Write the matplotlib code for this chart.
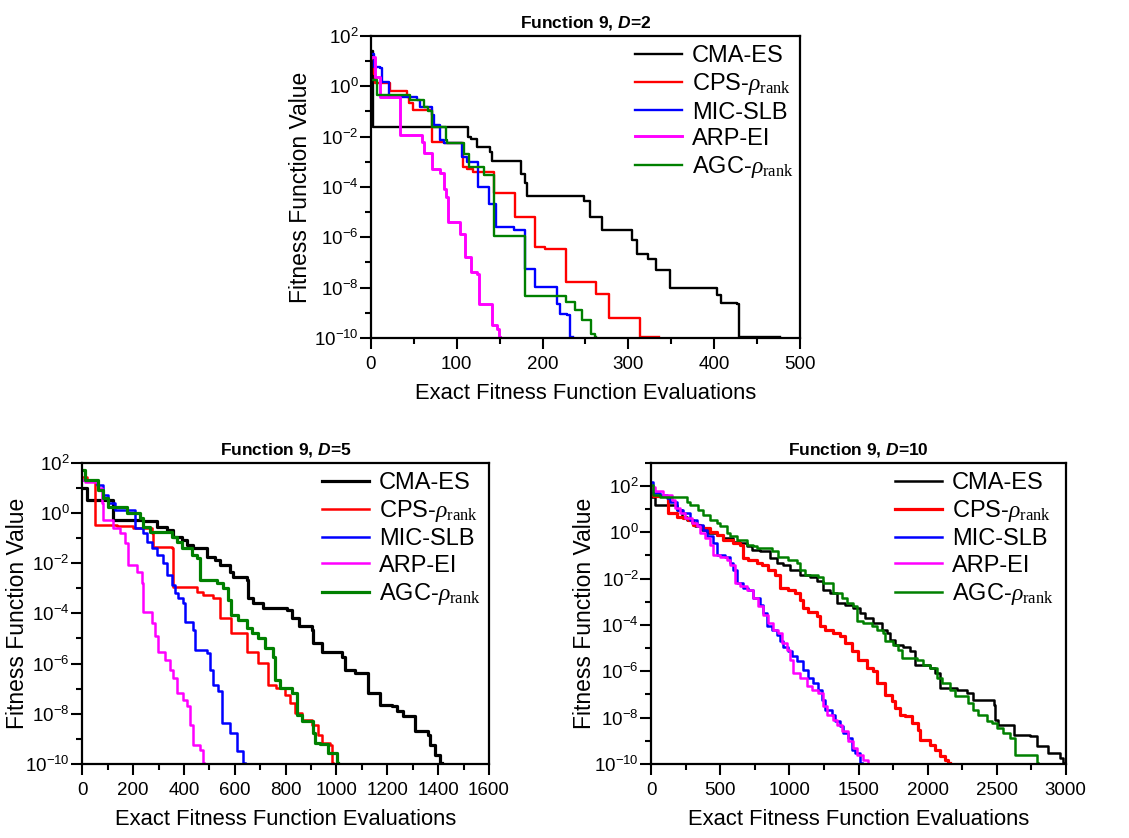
import numpy as np
import matplotlib.pyplot as plt
from matplotlib.ticker import FixedLocator, NullFormatter

plt.rcParams['font.family'] = ['Liberation Sans', 'DejaVu Sans']
plt.rcParams['mathtext.fontset'] = 'custom'
plt.rcParams['mathtext.rm'] = 'Liberation Serif'
plt.rcParams['mathtext.it'] = 'Liberation Serif:italic'
plt.rcParams['mathtext.bf'] = 'Liberation Sans:bold'
plt.rcParams['mathtext.bfit'] = 'Liberation Sans:italic:bold'

names = ['CMA-ES', r'CPS-$\rho_{\mathrm{rank}}$', 'MIC-SLB', 'ARP-EI', r'AGC-$\rho_{\mathrm{rank}}$']
colors = ['black', '#ff0000', '#0000ff', '#ff00ff', '#008000']

# ---- Function 9, D=2  (x = evaluations, e = log10 of fitness value)
d2_cma_x = [0, 2, 113, 117, 123, 139, 141, 175, 180, 182, 248, 255, 269, 304, 310, 323, 332, 349, 403, 408, 426, 429, 477]
d2_cma_e = [1.4, -1.6, -2.0, -2.1, -2.4, -2.6, -2.95, -3.5, -3.85, -4.35, -4.55, -5.2, -5.7, -6.1, -6.65, -6.85, -7.3, -8.0, -8.3, -8.6, -8.65, -9.97, -9.97]
d2_cps_x = [0, 3, 5, 22, 42, 44, 49, 71, 85, 107, 112, 119, 143, 168, 191, 203, 227, 262, 277, 313, 336]
d2_cps_e = [1.1, 0.5, 0.12, -0.2, -0.41, -0.68, -0.95, -2.2, -2.27, -3.2, -3.27, -3.4, -4.23, -5.2, -6.4, -6.45, -7.77, -8.27, -9.19, -9.95, -9.95]
d2_mic_x = [0, 3, 11, 13, 21, 54, 57, 71, 74, 81, 85, 106, 112, 125, 137, 146, 167, 180, 191, 217, 220, 228, 232, 235]
d2_mic_e = [1.3, 0.78, 0.72, 0.18, -0.41, -0.55, -0.81, -1.14, -1.54, -2.14, -2.27, -2.8, -3.0, -4.0, -4.68, -5.59, -5.72, -7.25, -7.97, -8.64, -9.03, -9.1, -9.97, -9.97]
d2_arp_x = [0, 5, 11, 34, 59, 62, 71, 81, 85, 88, 90, 104, 110, 117, 123, 126, 141, 147, 149, 150]
d2_arp_e = [1.18, 0.38, -0.41, -1.94, -2.2, -2.67, -3.27, -3.46, -4.1, -4.39, -5.39, -5.85, -6.78, -7.38, -7.45, -8.64, -9.5, -9.65, -9.97, -9.97]
d2_agc_x = [0, 7, 46, 62, 67, 71, 87, 89, 108, 114, 132, 143, 180, 227, 238, 246, 256, 261, 262]
d2_agc_e = [0.24, -0.35, -0.55, -0.81, -1.0, -1.6, -2.14, -2.27, -2.7, -3.2, -3.53, -5.96, -8.33, -8.57, -8.9, -9.3, -9.83, -9.97, -9.97]

# ---- Function 9, D=5
d5_cma_x = [0, 17, 122, 240, 292, 332, 358, 391, 410, 437, 489, 522, 542, 581, 594, 647, 653, 673, 712, 804, 824, 851, 903, 909, 942,
            1020, 1033, 1073, 1125, 1171, 1217, 1237, 1262, 1308, 1361, 1368, 1388, 1407, 1414]
d5_cma_e = [1.0, 0.51, -0.28, -0.34, -0.55, -0.68, -0.94, -1.07, -1.28, -1.41, -1.74, -1.87, -2.07, -2.34, -2.54, -2.67, -3.4, -3.6, -3.8,
            -3.86, -4.19, -4.52, -4.66, -5.19, -5.52, -5.72, -6.25, -6.38, -7.18, -7.64, -7.7, -7.9, -8.1, -8.7, -8.84, -9.23, -9.63, -9.97, -9.97]
d5_cps_x = [0, 17, 50, 135, 200, 273, 279, 351, 358, 450, 476, 515, 542, 587, 647, 692, 732, 764, 797, 817, 837, 863, 902, 928, 942,
            974, 981, 985]
d5_cps_e = [1.44, 1.31, -0.48, -0.52, -0.61, -0.81, -1.34, -1.4, -2.93, -3.13, -3.27, -3.4, -4.19, -4.79, -5.52, -5.98, -6.85, -6.98, -7.24,
            -7.58, -7.97, -8.24, -8.44, -8.84, -9.17, -9.25, -9.97, -9.97]
d5_mic_x = [0, 56, 83, 102, 128, 207, 240, 253, 273, 292, 319, 332, 351, 365, 378, 397, 404, 437, 443, 489, 502, 515, 535, 548, 581,
            607, 633, 640]
d5_mic_e = [1.31, 1.11, 0.71, 0.38, 0.12, -0.61, -0.81, -1.14, -1.41, -1.67, -2.0, -2.47, -2.87, -3.2, -3.4, -3.6, -4.33, -4.66, -5.45,
            -5.59, -6.25, -6.85, -7.11, -8.37, -8.77, -9.5, -9.97, -9.97]
d5_arp_x = [0, 10, 63, 76, 83, 122, 148, 168, 181, 214, 233, 240, 273, 286, 299, 325, 345, 358, 371, 397, 410, 424, 437, 463, 476, 479]
d5_arp_e = [1.31, 1.24, 0.98, 0.38, -0.28, -0.61, -0.81, -1.21, -2.07, -2.34, -2.8, -3.93, -4.39, -4.92, -5.52, -5.85, -6.25, -6.58,
            -7.18, -7.44, -7.7, -8.44, -9.23, -9.43, -9.97, -9.97]
d5_agc_x = [0, 10, 63, 83, 102, 174, 227, 240, 266, 351, 371, 391, 430, 450, 463, 529, 555, 575, 587, 614, 647, 666, 692, 719, 751,
            758, 778, 824, 843, 863, 909, 916, 935, 968, 1001, 1007]
d5_agc_e = [1.7, 1.31, 0.91, 0.58, 0.25, -0.02, -0.21, -0.55, -0.75, -0.94, -1.14, -1.41, -1.67, -1.8, -2.67, -2.8, -3.0, -3.46, -4.06,
            -4.26, -4.59, -4.79, -4.99, -5.39, -5.72, -6.65, -6.98, -7.18, -8.04, -8.3, -8.77, -9.17, -9.22, -9.56, -9.97, -9.97]

# ---- Function 9, D=10
d10_cma_x = [0, 27, 183, 220, 256, 292, 316, 364, 401, 473, 521, 594, 642, 690, 727, 787, 859, 908, 956, 1004, 1077, 1149, 1197, 1246,
             1294, 1342, 1402, 1463, 1511, 1547, 1607, 1668, 1704, 1728, 1764, 1825, 1873, 1909, 2018, 2054, 2090, 2211, 2283, 2332,
             2477, 2489, 2513, 2622, 2742, 2790, 2874, 2959, 2983, 2995]
d10_cma_e = [1.54, 1.18, 0.97, 0.68, 0.53, 0.39, 0.25, 0.10, -0.04, -0.11, -0.26, -0.40, -0.47, -0.61, -0.76, -0.83, -1.12, -1.33, -1.40,
             -1.62, -1.84, -1.91, -2.12, -2.48, -2.63, -3.06, -3.13, -3.27, -3.49, -3.70, -3.92, -4.21, -4.35, -4.64, -4.85, -4.93,
             -5.14, -5.72, -5.86, -6.07, -6.72, -6.79, -6.94, -7.22, -7.44, -8.09, -8.30, -8.73, -8.80, -9.24, -9.52, -9.74, -9.97, -9.97]
d10_cps_x = [0, 14, 123, 183, 232, 268, 304, 352, 377, 425, 473, 521, 594, 642, 666, 702, 763, 799, 847, 895, 932, 992, 1040, 1077,
             1101, 1137, 1197, 1221, 1258, 1318, 1366, 1402, 1451, 1499, 1559, 1607, 1632, 1692, 1740, 1764, 1800, 1837, 1885, 1933,
             1945, 2018, 2054, 2090, 2126, 2150, 2163]
d10_cps_e = [1.68, 1.55, 0.82, 0.68, 0.61, 0.53, 0.32, 0.25, 0.18, 0.03, -0.11, -0.33, -0.47, -0.54, -1.12, -1.19, -1.33, -1.40, -1.62,
             -1.84, -2.41, -2.48, -2.63, -2.91, -3.27, -3.42, -3.63, -4.06, -4.21, -4.35, -4.49, -4.78, -5.14, -5.50, -5.86, -6.0,
             -6.51, -7.01, -7.30, -7.58, -7.87, -7.94, -8.23, -8.52, -8.95, -9.16, -9.38, -9.67, -9.81, -9.97, -9.97]
d10_mic_x = [0, 10, 63, 111, 135, 183, 232, 280, 328, 377, 401, 449, 473, 533, 570, 594, 618, 666, 702, 739, 787, 811, 835, 871, 908,
             932, 956, 992, 1017, 1053, 1101, 1137, 1173, 1209, 1234, 1258, 1306, 1330, 1366, 1390, 1426, 1451, 1475, 1511, 1523]
d10_mic_e = [2.19, 1.68, 1.61, 1.47, 1.32, 0.97, 0.82, 0.53, 0.32, 0.10, -0.18, -0.47, -0.97, -1.05, -1.33, -1.62, -2.20, -2.41, -2.48,
             -2.84, -3.13, -3.49, -4.06, -4.21, -4.42, -4.71, -4.93, -5.14, -5.36, -5.57, -5.93, -6.29, -6.51, -6.79, -7.22, -7.66,
             -7.87, -8.16, -8.37, -8.66, -8.88, -9.38, -9.52, -9.97, -9.97]
d10_arp_x = [0, 27, 87, 147, 171, 208, 244, 292, 328, 352, 389, 425, 449, 497, 546, 570, 606, 642, 690, 739, 775, 811, 847, 884, 920,
             944, 980, 1004, 1029, 1077, 1125, 1161, 1209, 1246, 1270, 1318, 1342, 1378, 1426, 1463, 1487, 1535, 1568, 1571]
d10_arp_e = [1.97, 1.76, 1.61, 1.40, 1.04, 0.82, 0.61, 0.39, 0.25, -0.04, -0.26, -0.54, -0.97, -1.05, -1.19, -1.40, -2.20, -2.34, -2.48,
             -2.84, -3.20, -3.56, -3.92, -4.21, -4.35, -4.78, -5.07, -5.50, -6.07, -6.29, -6.65, -6.79, -6.94, -7.51, -7.87, -8.09,
             -8.30, -8.59, -9.02, -9.31, -9.60, -9.81, -9.97, -9.97]
d10_agc_x = [0, 14, 63, 256, 280, 340, 377, 425, 473, 497, 546, 570, 618, 690, 739, 763, 871, 920, 992, 1053, 1077, 1113, 1209, 1246,
             1318, 1378, 1414, 1463, 1487, 1535, 1595, 1632, 1680, 1692, 1752, 1788, 1812, 1921, 1969, 2018, 2066, 2102, 2163, 2199,
             2295, 2332, 2368, 2428, 2465, 2501, 2549, 2598, 2634, 2790, 2802]
d10_agc_e = [2.04, 1.61, 1.54, 1.32, 1.18, 0.97, 0.75, 0.53, 0.39, 0.25, -0.04, -0.18, -0.33, -0.54, -0.61, -0.69, -0.83, -1.05, -1.19,
             -1.33, -1.62, -1.84, -1.91, -2.20, -2.63, -2.84, -3.06, -3.20, -3.85, -3.92, -4.06, -4.21, -4.35, -4.71, -4.85, -5.07,
             -5.43, -5.50, -5.72, -5.86, -6.29, -6.51, -6.79, -7.08, -7.37, -7.66, -7.87, -8.16, -8.23, -8.45, -8.66, -8.88, -9.60,
             -9.97, -9.97]


def draw(ax, series, title, xmax, xmajor, ytop, widths, ylab_x, leg_x):
    for (xs, es), c, n, w in zip(series, colors, names, widths):
        ax.step(xs, 10.0 ** np.array(es), where='post', color=c, lw=w, label=n)
    ax.set_yscale('log')
    ax.set_xlim(0, xmax)
    ax.set_ylim(1e-10, 10.0 ** ytop)
    majors = [10.0 ** k for k in range(-10, ytop + 1, 2)]
    minors = [10.0 ** k for k in range(-9, ytop + 1, 2)]
    ax.yaxis.set_major_locator(FixedLocator(majors))
    ax.yaxis.set_minor_locator(FixedLocator(minors))
    ax.yaxis.set_minor_formatter(NullFormatter())
    ax.set_xticks(np.arange(0, xmax + 1, xmajor))
    ax.set_xticks(np.arange(xmajor / 2, xmax, xmajor), minor=True)
    ax.tick_params(which='major', direction='out', length=8, width=1.5, labelsize=13.5, pad=1)
    ax.tick_params(axis='x', which='major', pad=5)
    ax.tick_params(which='minor', direction='out', length=4.5, width=1.5)
    for s in ax.spines.values():
        s.set_linewidth(1.6)
    ax.set_title(title, fontsize=12.5, fontweight='bold', pad=6)
    ax.set_xlabel('Exact Fitness Function Evaluations', fontsize=15.8, labelpad=7)
    ax.set_ylabel('Fitness Function Value', fontsize=16.5)
    ax.yaxis.set_label_coords(ylab_x, 0.5)
    ax.legend(loc='upper left', bbox_to_anchor=(leg_x, 0.97), frameon=False, fontsize=17, handlelength=2.0,
              labelspacing=0.18, borderaxespad=0, handletextpad=0.42, borderpad=0)


fig = plt.figure(figsize=(11.29, 8.38), dpi=100)
ax1 = fig.add_axes([0.3286, 0.5967, 0.380, 0.3604])
ax2 = fig.add_axes([0.0729, 0.0883, 0.3602, 0.3595])
ax3 = fig.add_axes([0.5769, 0.0883, 0.3671, 0.3595])

draw(ax1, [(d2_cma_x, d2_cma_e), (d2_cps_x, d2_cps_e), (d2_mic_x, d2_mic_e), (d2_arp_x, d2_arp_e), (d2_agc_x, d2_agc_e)],
     r'Function 9, $\mathbfit{D}$=2', 500, 100, 2, [1.7, 1.7, 1.7, 2.1, 1.7], -0.1375, 0.615)
draw(ax2, [(d5_cma_x, d5_cma_e), (d5_cps_x, d5_cps_e), (d5_mic_x, d5_mic_e), (d5_arp_x, d5_arp_e), (d5_agc_x, d5_agc_e)],
     r'Function 9, $\mathbfit{D}$=5', 1600, 200, 2, [2.3, 1.8, 1.8, 1.8, 2.3], -0.131, 0.589)
draw(ax3, [(d10_cma_x, d10_cma_e), (d10_cps_x, d10_cps_e), (d10_mic_x, d10_mic_e), (d10_arp_x, d10_arp_e), (d10_agc_x, d10_agc_e)],
     r'Function 9, $\mathbfit{D}$=10', 3000, 500, 3, [1.8, 2.3, 1.8, 1.8, 1.8], -0.133, 0.588)

fig.savefig('out.png', dpi=100)
